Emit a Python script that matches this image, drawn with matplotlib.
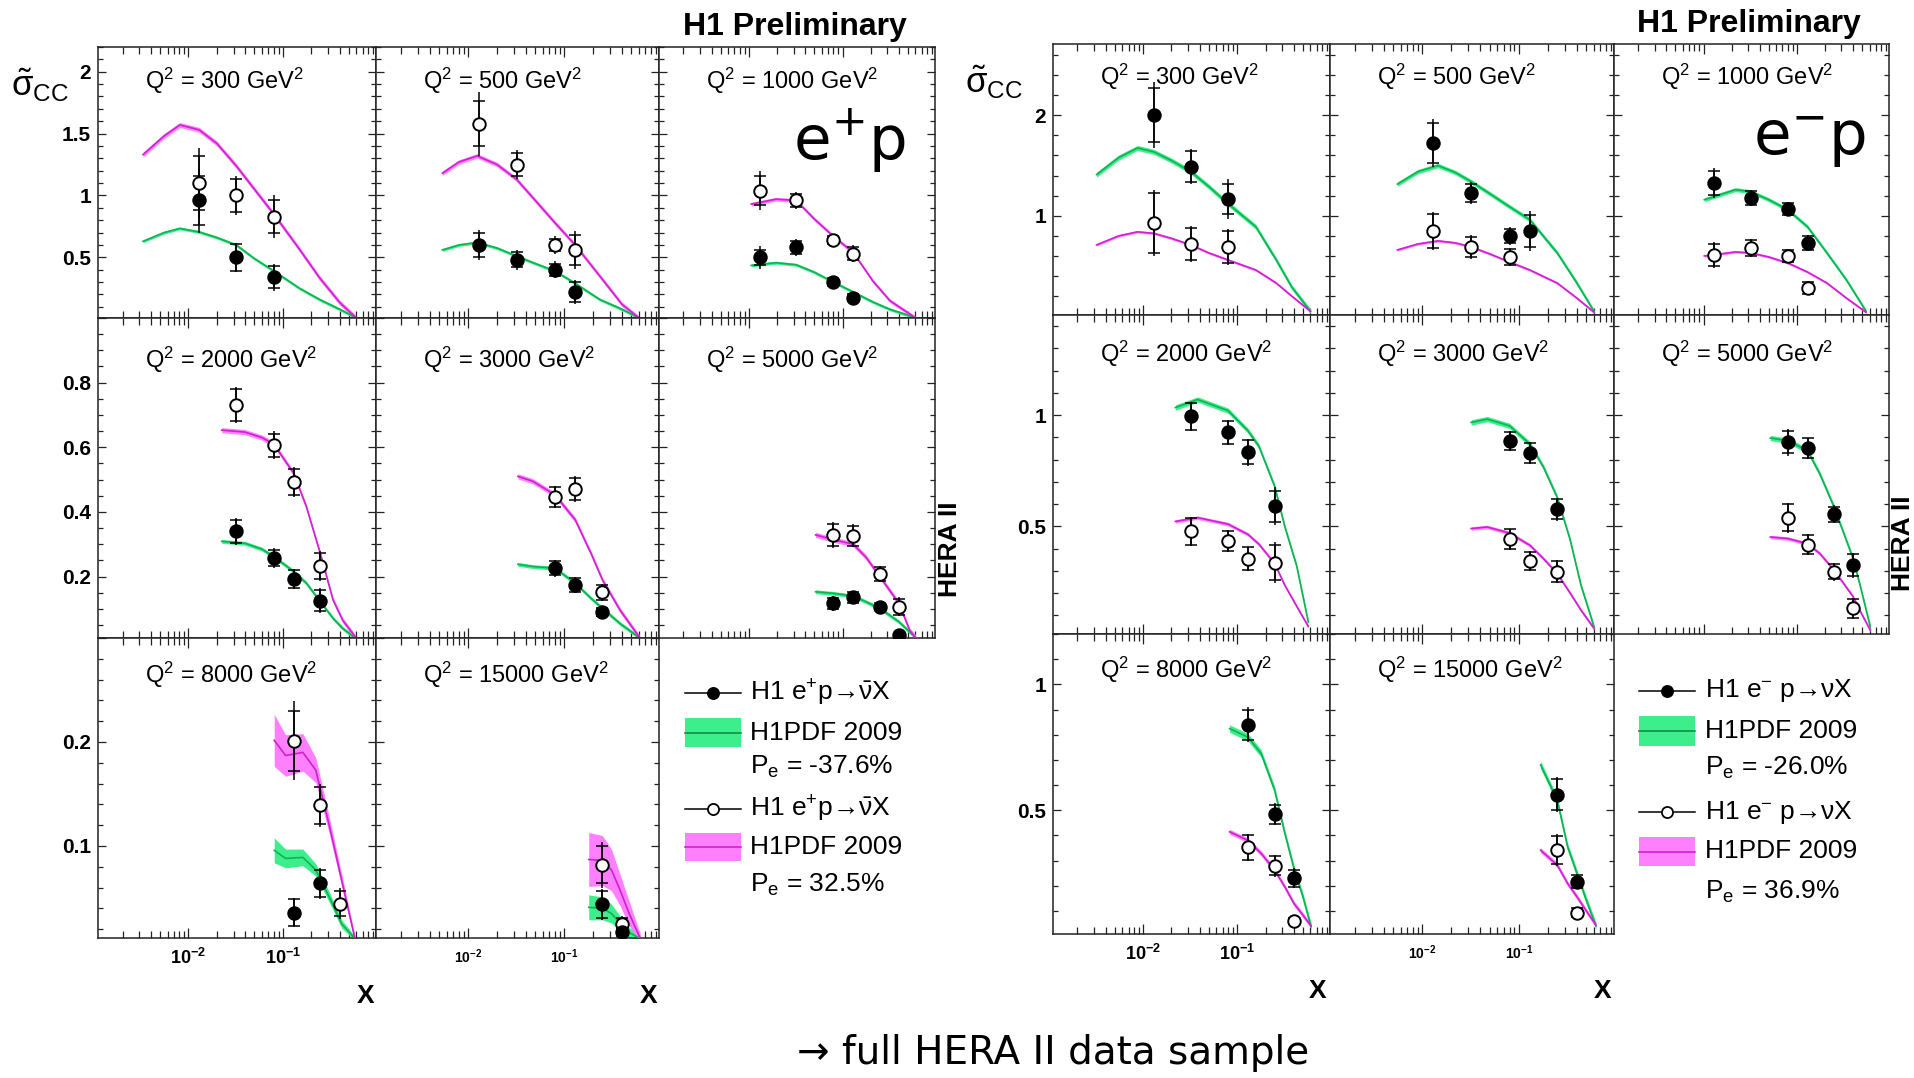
import numpy as np
import matplotlib
matplotlib.use('Agg')
import matplotlib.pyplot as plt
from matplotlib.ticker import MultipleLocator, FixedLocator, LogLocator, NullFormatter, FuncFormatter, FixedFormatter
from matplotlib.patches import Rectangle

plt.rcParams['font.family'] = ['Liberation Sans', 'DejaVu Sans']
plt.rcParams['mathtext.fontset'] = 'custom'
plt.rcParams['mathtext.rm'] = 'Liberation Sans'
plt.rcParams['mathtext.it'] = 'Liberation Sans:italic'
plt.rcParams['mathtext.bf'] = 'Liberation Sans:bold'

# ---------------- data: Q2 bins ----------------
q2_bins = [300, 500, 1000, 2000, 3000, 5000, 8000, 15000]

# ---------------- e+p : filled = Pe -37.6 %, open = Pe +32.5 % ----------------
ep_neg_x = [[0.013, 0.032, 0.08], [0.013, 0.032, 0.08, 0.13], [0.013, 0.032, 0.08, 0.13],
            [0.032, 0.08, 0.13, 0.25], [0.08, 0.13, 0.25], [0.08, 0.13, 0.25, 0.40],
            [0.13, 0.25], [0.25, 0.40]]
ep_neg_y = [[0.96, 0.50, 0.34], [0.60, 0.48, 0.40, 0.22], [0.50, 0.58, 0.30, 0.175],
            [0.34, 0.257, 0.193, 0.126], [0.226, 0.174, 0.091], [0.117, 0.136, 0.107, 0.019],
            [0.036, 0.064], [0.044, 0.017]]
ep_neg_stat = [[0.20, 0.11, 0.09], [0.10, 0.06, 0.05, 0.08], [0.06, 0.05, 0.03, 0.03],
               [0.035, 0.025, 0.028, 0.033], [0.022, 0.022, 0.012], [0.018, 0.017, 0.010, 0.008],
               [0.013, 0.013], [0.013, 0.004]]
ep_neg_tot = [[0.26, 0.12, 0.11], [0.12, 0.08, 0.07, 0.10], [0.09, 0.07, 0.035, 0.035],
              [0.042, 0.031, 0.032, 0.039], [0.026, 0.026, 0.015], [0.022, 0.020, 0.012, 0.010],
              [0.014, 0.015], [0.015, 0.005]]

ep_pos_x = [[0.013, 0.032, 0.08], [0.013, 0.032, 0.08, 0.13], [0.013, 0.032, 0.08, 0.13],
            [0.032, 0.08, 0.13, 0.25], [0.08, 0.13, 0.25], [0.08, 0.13, 0.25, 0.40],
            [0.13, 0.25, 0.40], [0.25, 0.40]]
ep_pos_y = [[1.10, 1.00, 0.83], [1.58, 1.25, 0.60, 0.56], [1.04, 0.96, 0.64, 0.53],
            [0.731, 0.606, 0.493, 0.233], [0.446, 0.471, 0.151], [0.329, 0.327, 0.208, 0.107],
            [0.201, 0.139, 0.0445], [0.082, 0.025]]
ep_pos_stat = [[0.22, 0.13, 0.13], [0.18, 0.09, 0.05, 0.12], [0.12, 0.05, 0.03, 0.05],
               [0.05, 0.035, 0.04, 0.04], [0.030, 0.033, 0.022], [0.033, 0.031, 0.022, 0.025],
               [0.029, 0.018, 0.012], [0.018, 0.006]]
ep_pos_tot = [[0.28, 0.16, 0.17], [0.26, 0.12, 0.07, 0.15], [0.16, 0.07, 0.04, 0.07],
              [0.055, 0.043, 0.047, 0.047], [0.035, 0.039, 0.026], [0.040, 0.037, 0.026, 0.030],
              [0.038, 0.021, 0.015], [0.022, 0.008]]

# H1PDF 2009 curves (e+p)
ep_cx = [[0.0033, 0.0055, 0.0081, 0.013, 0.02, 0.032, 0.05, 0.08, 0.15, 0.244, 0.40, 0.59],
         [0.0054, 0.008, 0.0124, 0.02, 0.032, 0.05, 0.08, 0.13, 0.234, 0.40, 0.59],
         [0.0106, 0.0195, 0.032, 0.05, 0.08, 0.13, 0.21, 0.32, 0.59],
         [0.0225, 0.0397, 0.06, 0.08, 0.13, 0.177, 0.25, 0.34, 0.43, 0.59],
         [0.033, 0.047, 0.08, 0.13, 0.19, 0.25, 0.38, 0.60],
         [0.0515, 0.08, 0.13, 0.178, 0.25, 0.40, 0.52, 0.60],
         [0.081, 0.107, 0.163, 0.223, 0.31, 0.42, 0.58],
         [0.18, 0.25, 0.31, 0.38, 0.47, 0.62]]
ep_neg_cy = [[0.63, 0.70, 0.734, 0.705, 0.66, 0.60, 0.49, 0.39, 0.25, 0.16, 0.08, 0.015],
             [0.56, 0.60, 0.62, 0.575, 0.51, 0.45, 0.39, 0.29, 0.16, 0.08, 0.015],
             [0.435, 0.457, 0.44, 0.38, 0.30, 0.22, 0.14, 0.08, 0.015],
             [0.309, 0.303, 0.285, 0.262, 0.216, 0.18, 0.122, 0.071, 0.04, 0.009],
             [0.238, 0.231, 0.226, 0.18, 0.133, 0.102, 0.055, 0.012],
             [0.153, 0.148, 0.14, 0.122, 0.102, 0.06, 0.029, 0.012],
             [0.0958, 0.088, 0.089, 0.077, 0.051, 0.025, 0.011],
             [0.041, 0.040, 0.035, 0.026, 0.017, 0.011]]
ep_pos_cy = [[1.33, 1.48, 1.57, 1.53, 1.42, 1.24, 1.05, 0.85, 0.565, 0.336, 0.135, 0.015],
             [1.18, 1.27, 1.32, 1.25, 1.13, 0.96, 0.78, 0.60, 0.35, 0.12, 0.015],
             [0.93, 0.97, 0.96, 0.81, 0.67, 0.54, 0.31, 0.15, 0.015],
             [0.653, 0.647, 0.63, 0.61, 0.52, 0.417, 0.27, 0.128, 0.065, 0.012],
             [0.51, 0.495, 0.453, 0.376, 0.272, 0.19, 0.097, 0.014],
             [0.329, 0.314, 0.30, 0.26, 0.20, 0.117, 0.034, 0.012],
             [0.2016, 0.187, 0.19, 0.173, 0.12, 0.067, 0.011],
             [0.087, 0.086, 0.077, 0.058, 0.036, 0.011]]
ep_neg_band = [0.012, 0.012, 0.012, 0.006, 0.006, 0.006,
               [0.012, 0.009, 0.008, 0.006, 0.005, 0.004, 0.002],
               [0.012, 0.011, 0.009, 0.007, 0.005, 0.003]]
ep_pos_band = [0.02, 0.018, 0.015, 0.008, 0.008, 0.008,
               [0.025, 0.020, 0.018, 0.012, 0.008, 0.006, 0.003],
               [0.026, 0.024, 0.020, 0.015, 0.012, 0.004]]

# ---------------- e-p : filled = Pe -26.0 %, open = Pe +36.9 % ----------------
em_neg_x = [[0.013, 0.032, 0.08], [0.013, 0.032, 0.08, 0.13], [0.013, 0.032, 0.08, 0.13],
            [0.032, 0.08, 0.13, 0.25], [0.08, 0.13, 0.25], [0.08, 0.13, 0.25, 0.40],
            [0.13, 0.25, 0.40], [0.25, 0.40]]
em_neg_y = [[2.0, 1.49, 1.17], [1.725, 1.23, 0.80, 0.85], [1.33, 1.18, 1.07, 0.725],
            [0.994, 0.922, 0.833, 0.59], [0.885, 0.83, 0.576], [0.878, 0.85, 0.554, 0.325],
            [0.84, 0.484, 0.229], [0.562, 0.216]]
em_neg_stat = [[0.27, 0.15, 0.15], [0.20, 0.09, 0.07, 0.16], [0.12, 0.07, 0.06, 0.07],
               [0.06, 0.05, 0.055, 0.07], [0.04, 0.045, 0.045], [0.05, 0.045, 0.035, 0.05],
               [0.06, 0.038, 0.035], [0.06, 0.025]]
em_neg_tot = [[0.33, 0.17, 0.20], [0.24, 0.11, 0.09, 0.20], [0.15, 0.08, 0.07, 0.08],
              [0.065, 0.055, 0.06, 0.085], [0.045, 0.05, 0.052], [0.06, 0.048, 0.04, 0.057],
              [0.07, 0.043, 0.04], [0.07, 0.03]]

em_pos_x = [[0.013, 0.032, 0.08], [0.013, 0.032, 0.08], [0.013, 0.032, 0.08, 0.13],
            [0.032, 0.08, 0.13, 0.25], [0.08, 0.13, 0.25], [0.08, 0.13, 0.25, 0.40],
            [0.13, 0.25, 0.40], [0.25, 0.40]]
em_pos_y = [[0.93, 0.715, 0.685], [0.85, 0.685, 0.586], [0.61, 0.675, 0.60, 0.278],
            [0.478, 0.434, 0.355, 0.337], [0.442, 0.345, 0.296], [0.539, 0.418, 0.296, 0.131],
            [0.352, 0.279, 0.06], [0.341, 0.093]]
em_pos_stat = [[0.30, 0.16, 0.16], [0.17, 0.10, 0.08], [0.11, 0.08, 0.06, 0.06],
               [0.06, 0.045, 0.05, 0.08], [0.045, 0.04, 0.047], [0.06, 0.043, 0.035, 0.042],
               [0.05, 0.038, 0.012], [0.055, 0.018]]
em_pos_tot = [[0.33, 0.18, 0.18], [0.19, 0.12, 0.09], [0.13, 0.09, 0.07, 0.07],
              [0.065, 0.05, 0.054, 0.093], [0.048, 0.045, 0.052], [0.067, 0.048, 0.04, 0.047],
              [0.055, 0.043, 0.015], [0.063, 0.02]]

# H1PDF 2009 curves (e-p)
em_cx = [[0.0032, 0.0055, 0.0087, 0.013, 0.02, 0.032, 0.05, 0.08, 0.158, 0.26, 0.38, 0.60],
         [0.0055, 0.009, 0.0145, 0.022, 0.032, 0.05, 0.08, 0.13, 0.25, 0.40, 0.60],
         [0.0102, 0.022, 0.032, 0.05, 0.08, 0.13, 0.21, 0.34, 0.55],
         [0.022, 0.038, 0.08, 0.13, 0.17, 0.25, 0.32, 0.43, 0.57],
         [0.032, 0.047, 0.08, 0.13, 0.18, 0.25, 0.34, 0.44, 0.60],
         [0.052, 0.08, 0.13, 0.176, 0.25, 0.40, 0.48, 0.61],
         [0.083, 0.13, 0.18, 0.25, 0.32, 0.40, 0.50, 0.61],
         [0.168, 0.25, 0.32, 0.40, 0.50, 0.63]]
em_neg_cy = [[1.41, 1.58, 1.675, 1.636, 1.55, 1.44, 1.29, 1.12, 0.89, 0.56, 0.29, 0.05],
             [1.315, 1.44, 1.50, 1.43, 1.34, 1.22, 1.09, 0.96, 0.63, 0.33, 0.05],
             [1.16, 1.26, 1.24, 1.16, 1.06, 0.89, 0.63, 0.36, 0.05],
             [1.034, 1.07, 1.02, 0.93, 0.86, 0.68, 0.50, 0.32, 0.07],
             [0.967, 0.982, 0.952, 0.87, 0.766, 0.63, 0.44, 0.236, 0.05],
             [0.897, 0.885, 0.84, 0.736, 0.587, 0.355, 0.228, 0.05],
             [0.824, 0.79, 0.725, 0.58, 0.41, 0.27, 0.156, 0.037],
             [0.68, 0.54, 0.355, 0.249, 0.143, 0.04]]
em_pos_cy = [[0.71, 0.80, 0.84, 0.825, 0.775, 0.71, 0.63, 0.56, 0.46, 0.33, 0.20, 0.05],
             [0.66, 0.72, 0.75, 0.73, 0.69, 0.62, 0.54, 0.46, 0.33, 0.18, 0.04],
             [0.60, 0.64, 0.63, 0.59, 0.53, 0.44, 0.33, 0.18, 0.04],
             [0.522, 0.539, 0.51, 0.464, 0.42, 0.333, 0.236, 0.14, 0.05],
             [0.49, 0.497, 0.47, 0.415, 0.355, 0.288, 0.20, 0.124, 0.042],
             [0.452, 0.445, 0.422, 0.378, 0.303, 0.184, 0.116, 0.034],
             [0.414, 0.38, 0.328, 0.262, 0.196, 0.13, 0.083, 0.04],
             [0.341, 0.282, 0.209, 0.156, 0.10, 0.044]]
em_neg_band = [0.025, 0.022, 0.02, 0.012, 0.012, 0.012, 0.015, 0.015]
em_pos_band = [0.012, 0.012, 0.012, 0.008, 0.008, 0.008, 0.01, 0.01]

# ---------------- styling / layout ----------------
W, H = 1915, 1078
GREEN_FILL, GREEN_LINE = '#3cef8c', '#14b054'
MAG_FILL, MAG_LINE = '#ff80ff', '#d020d0'
AX_COL = '#222222'

fig = plt.figure(figsize=(W / 100, H / 100), dpi=100)


def fx(px):
    return px / W


def fy(py):
    return 1 - py / H


def draw_theory(ax, cx, cy, band, fill, line):
    cx = np.asarray(cx, float)
    cy = np.asarray(cy, float)
    b = np.broadcast_to(np.asarray(band, float), cy.shape)
    ax.fill_between(cx, cy - b, cy + b, color=fill, lw=0, zorder=2)
    ax.plot(cx, cy, color=line, lw=1.2, zorder=3)


def draw_points(ax, x, y, stat, tot, face):
    ax.errorbar(x, y, yerr=tot, fmt='none', ecolor='black', elinewidth=1.1, capsize=0, zorder=4)
    ax.errorbar(x, y, yerr=stat, fmt='none', ecolor='black', elinewidth=1.1,
                capsize=4.5, capthick=1.1, zorder=4)
    ax.plot(x, y, 'o', ls='none', ms=9, mfc=face, mec='black', mew=1.4, zorder=5)


def y_formatter(top):
    # ROOT style: no label at the very top edge of the pad
    return FuncFormatter(lambda v, p: '' if v > top - 1e-6 else f'{v:g}')


def draw_block(cols, rows, ylims, ysteps, qoffs, neg, pos, cx, neg_cy, pos_cy, neg_band, pos_band):
    for i, q2 in enumerate(q2_bins):
        r, c = divmod(i, 3)
        x0, x1 = cols[c], cols[c + 1]
        y0, y1 = rows[r], rows[r + 1]
        ax = fig.add_axes([fx(x0), fy(y1), (x1 - x0) / W, (y1 - y0) / H])
        ax.set_xscale('log')
        ax.set_xlim(1.1e-3, 0.97)
        ax.set_ylim(*ylims[r])

        draw_theory(ax, cx[i], neg_cy[i], neg_band[i], GREEN_FILL, GREEN_LINE)
        draw_theory(ax, cx[i], pos_cy[i], pos_band[i], MAG_FILL, MAG_LINE)
        draw_points(ax, pos[0][i], pos[1][i], pos[2][i], pos[3][i], 'white')
        draw_points(ax, neg[0][i], neg[1][i], neg[2][i], neg[3][i], 'black')

        ax.xaxis.set_major_locator(FixedLocator([0.01, 0.1]))
        ax.xaxis.set_minor_locator(LogLocator(base=10, subs=np.arange(2, 10)))
        ax.xaxis.set_minor_formatter(NullFormatter())
        ax.yaxis.set_major_locator(MultipleLocator(ysteps[r][0]))
        ax.yaxis.set_minor_locator(MultipleLocator(ysteps[r][1]))

        if r == 2:
            ax.xaxis.set_major_formatter(FixedFormatter([r'$\mathbf{10^{-2}}$', r'$\mathbf{10^{-1}}$']))
        else:
            ax.xaxis.set_major_formatter(NullFormatter())
        if c == 0:
            ax.yaxis.set_major_formatter(y_formatter(ylims[r][1]))
        else:
            ax.yaxis.set_major_formatter(NullFormatter())

        ax.tick_params(which='both', direction='in', top=True, right=True, colors=AX_COL, width=0.9)
        ax.tick_params(axis='x', which='major', length=7.5, pad=7,
                       labelsize=13 if c == 0 else 10, labelcolor='black')
        ax.tick_params(axis='x', which='minor', length=5)
        ax.tick_params(axis='y', which='major', length=6, pad=5, labelsize=15, labelcolor='black')
        ax.tick_params(axis='y', which='minor', length=3.5)
        for lab in ax.get_yticklabels():
            lab.set_fontweight('bold')
        for sp in ax.spines.values():
            sp.set_color(AX_COL)
            sp.set_linewidth(1.1)

        fig.text(fx(x0 + 47), fy(y0 + qoffs[r]), f'Q$^2$ = {q2} GeV$^2$',
                 fontsize=17, ha='left', va='center')


draw_block([98, 376, 659, 935], [47, 318, 638, 938],
           [(0.01, 2.2), (0.01, 1.0), (0.0115, 0.3)],
           [(0.5, 0.1), (0.2, 0.05), (0.1, 0.02)], [34, 42, 37],
           (ep_neg_x, ep_neg_y, ep_neg_stat, ep_neg_tot),
           (ep_pos_x, ep_pos_y, ep_pos_stat, ep_pos_tot),
           ep_cx, ep_neg_cy, ep_pos_cy, ep_neg_band, ep_pos_band)

draw_block([1053, 1330, 1614, 1889], [44, 315, 634, 934],
           [(0.012, 2.71), (0.016, 1.45), (0.008, 1.2)],
           [(1.0, 0.2), (0.5, 0.1), (0.5, 0.1)], [33, 39, 36],
           (em_neg_x, em_neg_y, em_neg_stat, em_neg_tot),
           (em_pos_x, em_pos_y, em_pos_stat, em_pos_tot),
           em_cx, em_neg_cy, em_pos_cy, em_neg_band, em_pos_band)

# ---------------- overlay texts ----------------
fig.text(fx(795), fy(35), 'H1 Preliminary', fontsize=23, fontweight='bold', ha='center', va='baseline')
fig.text(fx(1749), fy(32), 'H1 Preliminary', fontsize=23, fontweight='bold', ha='center', va='baseline')
fig.text(fx(850), fy(160), 'e$^{+}$p', fontsize=44, family='DejaVu Sans', ha='center', va='baseline',
         math_fontfamily='dejavusans')
fig.text(fx(1810), fy(155), 'e$^{-}$p', fontsize=44, family='DejaVu Sans', ha='center', va='baseline',
         math_fontfamily='dejavusans')
fig.text(fx(40), fy(85), r'$\tilde{\mathrm{\sigma}}_{\mathrm{CC}}$', fontsize=25, ha='center', va='center')
fig.text(fx(994), fy(82), r'$\tilde{\mathrm{\sigma}}_{\mathrm{CC}}$', fontsize=25, ha='center', va='center')
fig.text(fx(950), fy(549), 'HERA II', fontsize=19, fontweight='bold', rotation=90, ha='center', va='center')
fig.text(fx(1903), fy(543), 'HERA II', fontsize=19, fontweight='bold', rotation=90, ha='center', va='center')
for xr, yc in [(374, 996), (657, 996), (1326, 991), (1611, 991)]:
    fig.text(fx(xr), fy(yc), 'X', fontsize=19, fontweight='bold', ha='right', va='center')
fig.text(fx(1053), fy(1053), '\u2192 full HERA II data sample', fontsize=28,
         family='DejaVu Sans', ha='center', va='center')

# ---------------- legends ----------------
ov = fig.add_axes([0, 0, 1, 1])
ov.set_xlim(0, W)
ov.set_ylim(H, 0)
ov.axis('off')


def legend(x0, x1, xt, ys, boxes, label, pols):
    xm = (x0 + x1) / 2
    for k, face in enumerate(['black', 'white']):
        ov.plot([x0, x1], [ys[k], ys[k]], color='black', lw=1.1)
        ov.plot([xm], [ys[k]], 'o', ms=8, mfc=face, mec='black', mew=1.3)
        fill, line = [(GREEN_FILL, '#0f8f45'), (MAG_FILL, MAG_LINE)][k]
        bt, bb = boxes[k]
        ov.add_patch(Rectangle((x0, bt), x1 - x0, bb - bt, facecolor=fill, edgecolor='none'))
        ov.plot([x0, x1], [(bt + bb) / 2] * 2, color=line, lw=1.2)
        fig.text(fx(xt), fy(ys[k]), label, fontsize=19, ha='left', va='center')
        fig.text(fx(xt), fy((bt + bb) / 2), 'H1PDF 2009', fontsize=19, ha='left', va='center')
        fig.text(fx(xt), fy(ys[k + 2]), 'P$_\\mathrm{e}$ = ' + pols[k], fontsize=19, ha='left', va='center')


legend(685, 741, 750, [693, 809, 767, 885], [(718, 747), (833, 861)],
       'H1 e$^{+}$p\u2192$\\bar{\\mathrm{\\nu}}$X', ['-37.6%', '32.5%'])
legend(1639, 1695, 1705, [691, 812, 768, 892], [(716, 746), (837, 866)],
       'H1 e$^{-}$ p\u2192$\\mathrm{\\nu}$X', ['-26.0%', '36.9%'])

fig.savefig('out.png', dpi=100)
